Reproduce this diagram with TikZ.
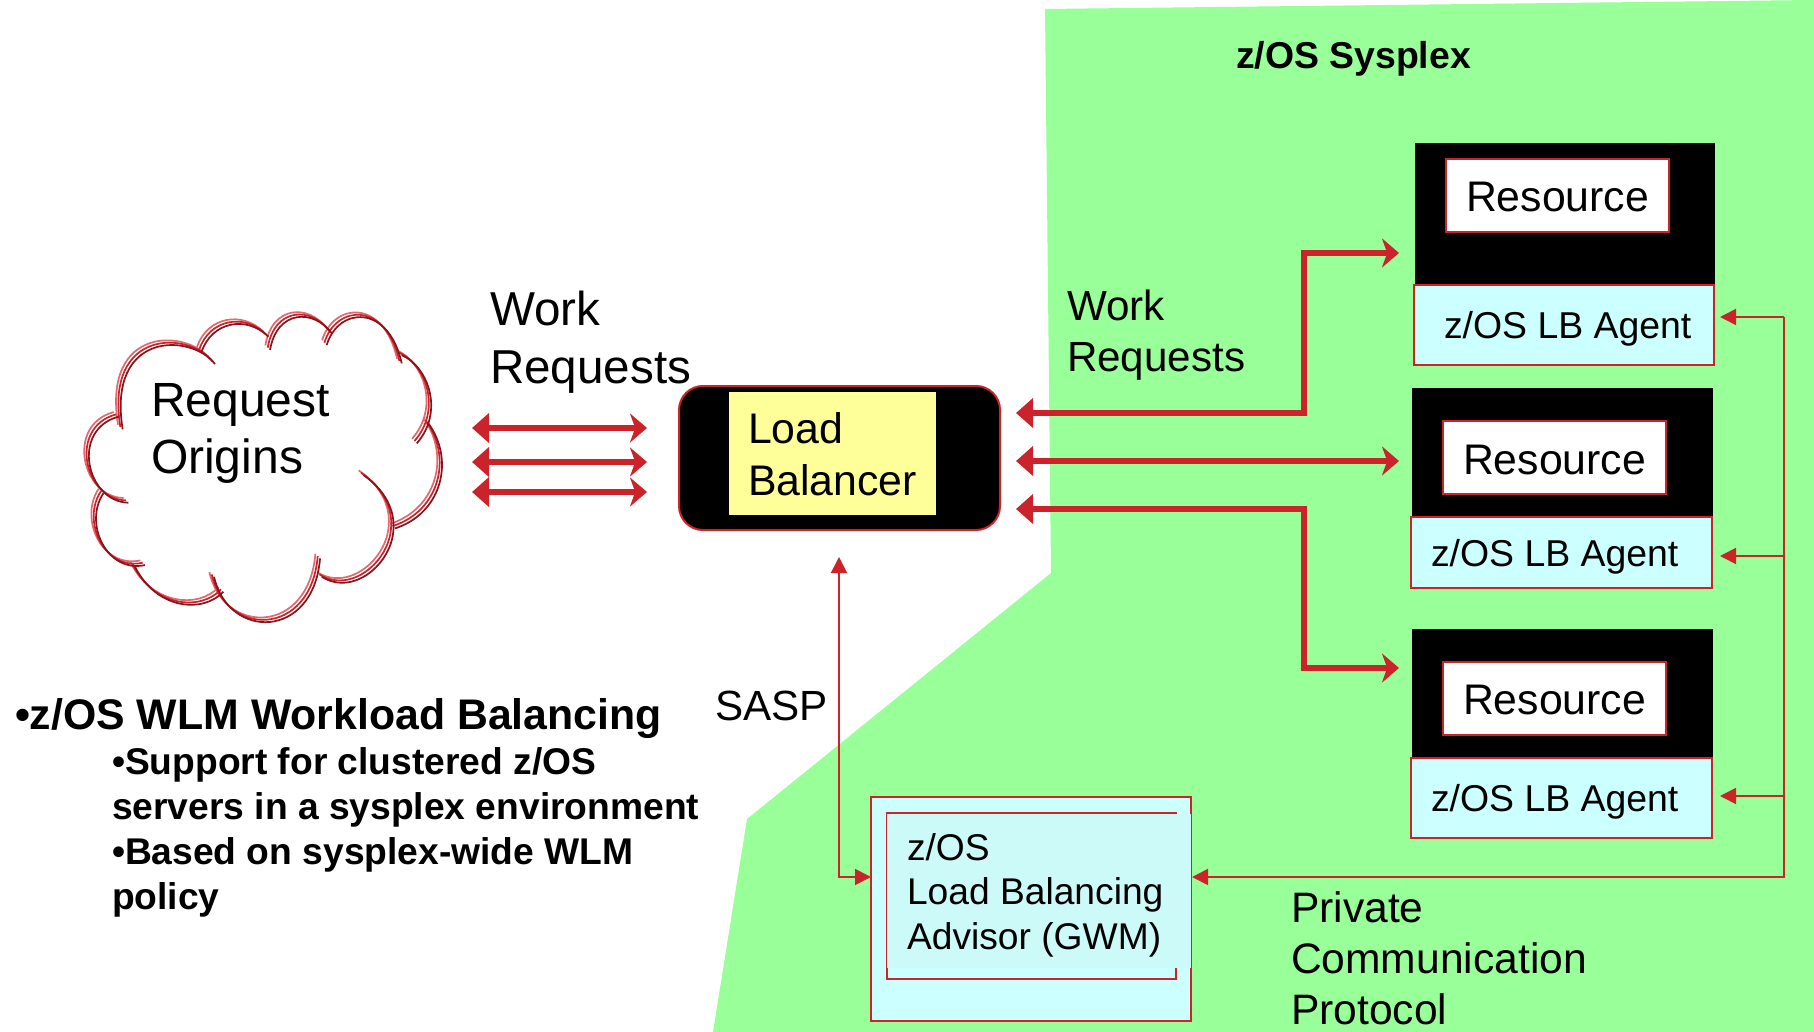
\documentclass[tikz,border=0pt]{standalone}
\usepackage{fontspec}
\setmainfont{Liberation Sans}
\usetikzlibrary{arrows.meta}
\definecolor{lbred}{HTML}{CC2229}
\definecolor{lbdark}{HTML}{8A1218}
\definecolor{lblight}{HTML}{E06A72}
\definecolor{lbgreen}{HTML}{99FF99}
\definecolor{lbcyan}{HTML}{CCFFFF}
\definecolor{lbpale}{HTML}{CCFAF8}
\definecolor{lbyellow}{HTML}{FFFF99}
\newcommand{\pxbox}[6]{\node[#6,inner sep=0pt,outer sep=0pt,minimum width={(#4-#2)*0.5pt},minimum height={(#5-#3)*0.5pt}] (#1) at ({(#2+#4)/2},{(#3+#5)/2}) {};}
\newcommand{\cloudpath}{
 (465,252) .. controls (395,160) and (140,150) .. (188,448)
 (425,215) .. controls (455,125) and (560,105) .. (625,170)
 (630,210) .. controls (650,90) and (760,85) .. (815,160)
 (800,195) .. controls (835,80) and (985,70) .. (1025,250)
 (1025,225) .. controls (1110,265) and (1150,400) .. (1070,490)
 (1105,430) .. controls (1185,540) and (1145,700) .. (1005,745)
 (910,585) .. controls (975,630) and (1005,690) .. (1000,750) .. controls (995,850) and (880,950) .. (785,890)
 (780,835) .. controls (760,1080) and (505,1080) .. (462,890)
 (490,935) .. controls (430,1000) and (290,990) .. (225,860)
 (255,855) .. controls (140,880) and (70,730) .. (130,640)
 (205,668) .. controls (80,665) and (30,450) .. (175,410)
}
\tikzset{
 txt/.style={inner sep=0pt,outer sep=0pt,anchor=base west,align=left,text=black},
 blackbox/.style={fill=black},
 resbox/.style={fill=white,draw=lbred,line width=1.25pt},
 agentbox/.style={fill=lbcyan,draw=lbred,line width=1pt},
 bigflow/.style={draw=lbred,line width=3pt,line join=miter},
 thinflow/.style={draw=lbred,line width=0.9pt,line join=miter},
 flathead/.tip={Triangle[length=8.5pt,width=14.5pt,color=lbred]},
 notchhead/.tip={Stealth[length=8.5pt,width=14.5pt,inset=2.6pt,color=lbred]},
 smallhead/.tip={Triangle[length=8pt,width=8pt,color=lbred]},
 cloudline/.style={line width=0.85pt,line cap=butt},
}
\begin{document}
\begin{tikzpicture}[x=0.5pt,y=-0.5pt]
\useasboundingbox (0,0) rectangle (1814,1032);
\fill[white] (0,0) rectangle (1814,1032);
\fill[lbgreen] (1045,9) -- (1814,0) -- (1814,1032) -- (713,1032) -- (747,819) -- (1051,573) -- cycle;

% cloud
\begin{scope}[shift={(60,280)},x=0.1667pt,y=-0.1667pt]
 \begin{scope}[shift={(-14,-14)}]
  \draw[cloudline,draw=lblight] \cloudpath;
 \end{scope}
 \begin{scope}[shift={(-7,-7)}]
  \draw[cloudline,draw=lbred] \cloudpath;
 \end{scope}
 \draw[cloudline,draw=lbdark] \cloudpath;
\end{scope}
\node[txt,font=\fontsize{24pt}{28.5pt}\selectfont] (origins) at (151,473) {Request\\Origins};

% load balancer
\pxbox{lb}{679}{386}{1000}{530}{fill=black,draw=lbred,line width=1pt,rounded corners=12pt}
\pxbox{lbin}{729}{392}{936}{515}{fill=lbyellow}
\node[txt,font=\fontsize{21.4pt}{26pt}\selectfont] (lbtext) at (748,495) {Load\\Balancer};

% resources
\pxbox{resA}{1415}{143}{1715}{284}{blackbox}
\pxbox{resAbox}{1446}{159}{1669}{232}{resbox}
\pxbox{agentA}{1414}{285}{1714}{365}{agentbox}
\node[txt,font=\fontsize{21.4pt}{25pt}\selectfont] (resAt) at (1466,212) {Resource};
\node[txt,font=\fontsize{18.7pt}{22pt}\selectfont] (agentAt) at (1444,338) {z/OS LB Agent};

\pxbox{resB}{1412}{388}{1713}{517}{blackbox}
\pxbox{resBbox}{1443}{421}{1666}{494}{resbox}
\pxbox{agentB}{1411}{517}{1712}{588}{agentbox}
\node[txt,font=\fontsize{21.4pt}{25pt}\selectfont] (resBt) at (1463,474) {Resource};
\node[txt,font=\fontsize{18.7pt}{22pt}\selectfont] (agentBt) at (1431,566) {z/OS LB Agent};

\pxbox{resC}{1412}{629}{1713}{758}{blackbox}
\pxbox{resCbox}{1443}{662}{1666}{735}{resbox}
\pxbox{agentC}{1411}{758}{1712}{838}{agentbox}
\node[txt,font=\fontsize{21.4pt}{25pt}\selectfont] (resCt) at (1463,714) {Resource};
\node[txt,font=\fontsize{18.7pt}{22pt}\selectfont] (agentCt) at (1431,811) {z/OS LB Agent};

% advisor
\pxbox{adv}{871}{797}{1191}{1021}{fill=lbcyan,draw=lbred,line width=1pt}
\pxbox{advmid}{887}{813}{1176}{979}{draw=lbred,line width=1pt}
\pxbox{advin}{887}{814}{1191}{968}{fill=lbpale}
\node[txt,font=\fontsize{18.6pt}{22.25pt}\selectfont] (advtext) at (907,949) {z/OS\\Load Balancing\\Advisor (GWM)};

% named free ends
\coordinate (cloudA) at (472,428); \coordinate (lbA) at (647,428);
\coordinate (cloudB) at (472,462); \coordinate (lbB) at (647,462);
\coordinate (cloudC) at (472,492); \coordinate (lbC) at (647,492);
\coordinate (lbOutA) at (1016,413); \coordinate (lbOutB) at (1016,461); \coordinate (lbOutC) at (1016,509);
\coordinate (kneeA) at (1304,413); \coordinate (kneeA2) at (1304,253);
\coordinate (kneeC) at (1304,509); \coordinate (kneeC2) at (1304,668);
\coordinate (resAinp) at (1399,253); \coordinate (resBinp) at (1399,461); \coordinate (resCinp) at (1399,668);
\coordinate (busTop) at (1784,317); \coordinate (busMid) at (1784,556); \coordinate (busLow) at (1784,796); \coordinate (busEnd) at (1784,877);
\coordinate (agentAe) at (1720,317); \coordinate (agentBe) at (1720,556); \coordinate (agentCe) at (1720,796);
\coordinate (advE) at (1192,877); \coordinate (advW) at (871,877); \coordinate (saspKnee) at (839,877); \coordinate (lbS) at (839,557);

% heavy arrows
\draw[bigflow,{flathead}-{notchhead}] (cloudA) -- (lbA);
\draw[bigflow,{flathead}-{notchhead}] (cloudB) -- (lbB);
\draw[bigflow,{flathead}-{notchhead}] (cloudC) -- (lbC);
\draw[bigflow,{flathead}-{notchhead}] (lbOutA) -- (kneeA) -- (kneeA2) -- (resAinp);
\draw[bigflow,{flathead}-{notchhead}] (lbOutB) -- (resBinp);
\draw[bigflow,{flathead}-{notchhead}] (lbOutC) -- (kneeC) -- (kneeC2) -- (resCinp);

% thin arrows
\draw[thinflow,-{smallhead}] (busTop) -- (agentAe);
\draw[thinflow,-{smallhead}] (busMid) -- (agentBe);
\draw[thinflow,-{smallhead}] (busLow) -- (agentCe);
\draw[thinflow,-{smallhead}] (busTop) -- (busEnd) -- (advE);
\draw[thinflow,{smallhead}-{smallhead}] (lbS) -- (saspKnee) -- (advW);

% labels
\node[txt,font=\bfseries\fontsize{18.7pt}{22pt}\selectfont] (sysplex) at (1236,69) {z/OS Sysplex};
\node[txt,font=\fontsize{23.8pt}{29pt}\selectfont] (workL) at (490,383) {Work\\Requests};
\node[txt,font=\fontsize{21.1pt}{25.5pt}\selectfont] (workR) at (1067,371) {Work\\Requests};
\node[txt,font=\fontsize{21.1pt}{25pt}\selectfont] (sasp) at (715,720) {SASP};
\node[txt,font=\fontsize{21.3pt}{25.5pt}\selectfont] (pcp) at (1291,1024) {Private\\Communication\\Protocol};
\node[txt,font=\bfseries\fontsize{21.4pt}{25pt}\selectfont] (wlmhead) at (15,729) {•z/OS WLM Workload Balancing};
\node[txt,font=\bfseries\fontsize{18.6pt}{22.35pt}\selectfont] (wlmbody) at (112,909) {•Support for clustered z/OS\\servers in a sysplex environment\\•Based on sysplex-wide WLM\\policy};
\end{tikzpicture}
\end{document}
